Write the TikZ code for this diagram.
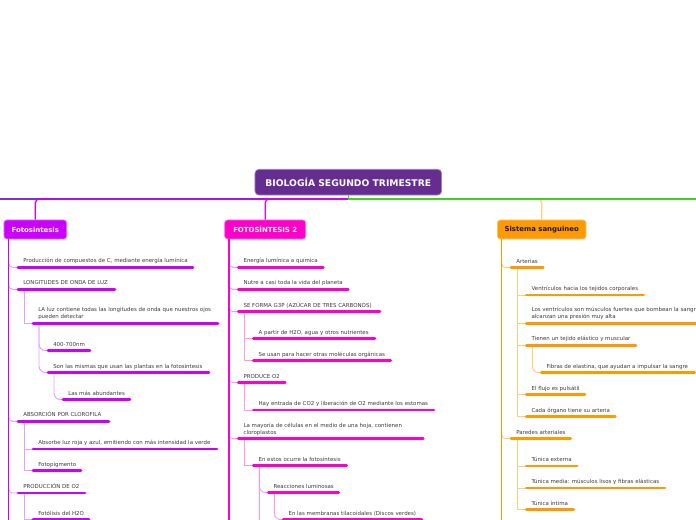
\documentclass[tikz,border=0pt]{standalone}
\usepackage{fontspec}
\setmainfont{DejaVu Sans}
\usetikzlibrary{calc}
\definecolor{cP}{HTML}{CC00FF}
\definecolor{lP}{HTML}{E2A0FF}
\definecolor{cM}{HTML}{FF00CC}
\definecolor{lM}{HTML}{FF99E6}
\definecolor{cO}{HTML}{FF9900}
\definecolor{lO}{HTML}{FFCC80}
\definecolor{cB}{HTML}{7B2FE6}
\definecolor{cG}{HTML}{3CD41E}
\definecolor{cT}{HTML}{662D91}
\definecolor{txt}{HTML}{3A3A3A}
\pgfdeclarelayer{bg}
\pgfsetlayers{bg,main}
\tikzset{
  barline/.style={line width=2pt, line cap=round},
  cl/.style={line width=0.7pt},
  topl/.style={line width=1pt},
  trunk/.style={line width=1.1pt},
  lt/.style={font=\fontsize{4.1}{5.25}\selectfont, text=txt, inner sep=0pt, anchor=base west, align=left},
  tbox/.style={fill=cT, draw=cT!60!white, line width=0.5pt, rounded corners=3pt, text=white,
     font=\fontsize{6.9}{8}\selectfont\bfseries, minimum width=140pt, minimum height=19.3pt, inner sep=0pt},
  mbox/.style={rounded corners=2.2pt, line width=0.5pt, font=\fontsize{5.2}{6}\selectfont\bfseries,
     minimum height=14.25pt, inner sep=0pt}
}
\newcommand\leaf[6]{%
  \coordinate (#1) at (#2,#4);
  \coordinate (#1e) at (#3,#4);
  \draw[barline,#5] (#1) -- (#1e);
  \node[lt] (#1t) at ($(#1)+(5,-4.5)$) {#6};
}
\begin{document}
\begin{tikzpicture}[x=0.75pt,y=-0.75pt]
\useasboundingbox (0,0) rectangle (696,520);
\clip (0,0) rectangle (696,520);

% main boxes
\node[tbox] (T) at (348.3,182.2) {BIOLOGÍA SEGUNDO TRIMESTRE};
\node[mbox, fill=cP, draw=cP!55!white, text=white, minimum width=47pt] (F1) at (35.3,229.5) {Fotosintesis};
\node[mbox, fill=cM, draw=cM!55!white, text=white, minimum width=60.75pt] (F2) at (265.2,229.5) {FOTOSÍNTESIS 2};
\node[mbox, fill=cO, draw=cO!55!white, text=black!90, minimum width=66.5pt] (S) at (541.7,229.5) {Sistema sanguineo};

\coordinate (J) at (348.3,199);
\coordinate (offL) at (-5,199);
\coordinate (offR) at (705,199);

% top connectors
\draw[topl,cB] (T.south) -- (J) -- (offL);
\draw[topl,lO,rounded corners=3pt] (J) -| (S.north);
\draw[topl,cM,rounded corners=3pt] (J) -| (F2.north);
\draw[topl,cP,rounded corners=3pt] (J) -| (F1.north);
\draw[topl,cG] (T.south) -- (J) -- (offR);

% trunks
\coordinate (F1tr) at ($(F1.south west)+(5,0)$);
\coordinate (F2tr) at ($(F2.south west)+(4.6,0)$);
\coordinate (Str) at ($(S.south west)+(4.7,0)$);
\coordinate (F1bot) at ($(F1tr)+(0,320)$);
\coordinate (F2bot) at ($(F2tr)+(0,320)$);
\coordinate (Sbot) at ($(Str)+(0,320)$);
\draw[trunk,cP] (F1tr) -- (F1bot);
\draw[trunk,cM] (F2tr) -- (F2bot);
\draw[trunk,cO] (Str) -- (Sbot);

% ---------- Fotosintesis ----------
\leaf{Pa}{18}{193}{267.3}{cP}{Producción de compuestos de C, mediante energía lumínica}
\leaf{Pb}{18}{115}{289.3}{cP}{LONGITUDES DE ONDA DE LUZ}
\leaf{Pba}{33}{218}{323.3}{cP}{LA luz contiene todas las longitudes de onda que nuestros ojos\\pueden detectar}
\leaf{Pbaa}{48}{90}{350.7}{cP}{400-700nm}
\leaf{Pbab}{48}{209}{372.7}{cP}{Son las mismas que usan las plantas en la fotosíntesis}
\leaf{Pbaba}{63}{130}{399.7}{cP}{Las más abundantes}
\leaf{Pc}{18}{109}{421.3}{cP}{ABSORCIÓN POR CLOROFILA}
\leaf{Pca}{33}{217}{449}{cP}{Absorbe luz roja y azul, emitiendo con más intensidad la verde}
\leaf{Pcb}{33}{81}{470.7}{cP}{Fotopigmento}
\leaf{Pd}{18}{85}{493}{cP}{PRODUCCIÓN DE O2}
\leaf{Pda}{33}{89}{519.7}{cP}{Fotólisis del H2O}
\coordinate (offP) at (33,560);

% ---------- FOTOSINTESIS 2 ----------
\leaf{Ma}{238.3}{323.3}{267.3}{cM}{Energía lumínica a química}
\leaf{Mb}{238.3}{348.3}{289.3}{cM}{Nutre a casi toda la vida del planeta}
\leaf{Mc}{238.3}{380}{311.7}{cM}{SE FORMA G3P (AZÚCAR DE TRES CARBONOS)}
\leaf{Mca}{253.3}{375}{338.7}{cM}{A partir de H2O, agua y otros nutrientes}
\leaf{Mcb}{253.3}{390.7}{360.7}{cM}{Se usan para hacer otras moléculas orgánicas}
\leaf{Md}{238.3}{285.3}{382.7}{cM}{PRODUCE O2}
\leaf{Mda}{253.3}{434}{410}{cM}{Hay entrada de CO2 y liberación de O2 mediante los estomas}
\leaf{Me}{238.3}{423.3}{438.7}{cM}{La mayoría de células en el medio de una hoja, contienen\\cloroplastos}
\leaf{Mea}{253.3}{346.7}{465.7}{cM}{En estos ocurre la fotosíntesis}
\leaf{Meaa}{268.3}{338.7}{492.7}{cM}{Reacciones luminosas}
\leaf{Meaaa}{283.3}{421.7}{519.7}{cM}{En las membranas tilacoidales (Discos verdes)}
\coordinate (offM) at (268.3,570);

% ---------- Sistema sanguineo ----------
\leaf{Oa}{511}{543.3}{267.7}{cO}{Arterias}
\leaf{Oaa}{526.3}{643.7}{295}{cO}{Ventrículos hacia los tejidos corporales}
\leaf{Oab}{526.3}{730}{323.3}{cO}{Los ventrículos son músculos fuertes que bombean la sangre,\\alcanzan una presión muy alta}
\leaf{Oac}{526.3}{636}{345.3}{cO}{Tienen un tejido elástico y muscular}
\leaf{Oaca}{541.3}{694.7}{372.7}{cO}{Fibras de elastina, que ayudan a impulsar la sangre}
\leaf{Oad}{526.3}{585}{394.7}{cO}{El flujo es pulsátil}
\leaf{Oae}{526.3}{615.3}{416.7}{cO}{Cada órgano tiene su arteria}
\leaf{Ob}{511}{570.7}{438.7}{cO}{Paredes arteriales}
\leaf{Oba}{526.3}{577.3}{466}{cO}{Túnica externa}
\leaf{Obb}{526.3}{665}{488}{cO}{Túnica media: músculos lisos y fibras elásticas}
\leaf{Obc}{526.3}{573.7}{509.7}{cO}{Túnica íntima}

% ---------- connectors (background) ----------
\begin{pgfonlayer}{bg}
  % level 1
  \foreach \n in {Pa,Pb,Pc,Pd} {\draw[cl,lP,rounded corners=3pt] (F1tr |- \n) ++(0,-6) |- (\n);}
  \foreach \n in {Ma,Mb,Mc,Md,Me} {\draw[cl,lM,rounded corners=3pt] (F2tr |- \n) ++(0,-6) |- (\n);}
  \foreach \n in {Oa,Ob} {\draw[cl,lO,rounded corners=3pt] (Str |- \n) ++(0,-6) |- (\n);}
  % level 2 (angled)
  \draw[cl,lP] ($(Pb)+(6,0)$) |- (Pba);
  \draw[cl,lP] ($(Pc)+(6,0)$) |- (Pca);
  \draw[cl,lP] ($(Pc)+(6,0)$) |- (Pcb);
  \draw[cl,lP] ($(Pd)+(6,0)$) |- (Pda);
  \draw[cl,lP] ($(Pd)+(6,0)$) |- (offP);
  \draw[cl,lM] ($(Mc)+(6,0)$) |- (Mca);
  \draw[cl,lM] ($(Mc)+(6,0)$) |- (Mcb);
  \draw[cl,lM] ($(Md)+(6,0)$) |- (Mda);
  \draw[cl,lM] ($(Me)+(6,0)$) |- (Mea);
  \foreach \n in {Oaa,Oab,Oac,Oad,Oae} {\draw[cl,lO] ($(Oa)+(6,0)$) |- (\n);}
  \foreach \n in {Oba,Obb,Obc} {\draw[cl,lO] ($(Ob)+(6,0)$) |- (\n);}
  % level 3+ (curved)
  \draw[cl,lP,rounded corners=5pt] ($(Pba)+(6,0)$) |- (Pbaa);
  \draw[cl,lP,rounded corners=5pt] ($(Pba)+(6,0)$) |- (Pbab);
  \draw[cl,lP,rounded corners=5pt] ($(Pbab)+(6,0)$) |- (Pbaba);
  \draw[cl,lM,rounded corners=5pt] ($(Mea)+(6,0)$) |- (Meaa);
  \draw[cl,lM,rounded corners=5pt] ($(Mea)+(6,0)$) |- (offM);
  \draw[cl,lM,rounded corners=5pt] ($(Meaa)+(6,0)$) |- (Meaaa);
  \draw[cl,lO,rounded corners=5pt] ($(Oac)+(6,0)$) |- (Oaca);
\end{pgfonlayer}
\end{tikzpicture}
\end{document}
